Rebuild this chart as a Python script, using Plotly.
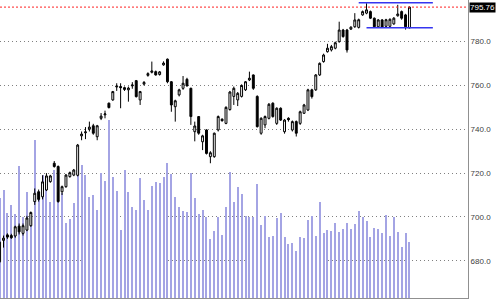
import plotly.graph_objects as go

# ---- data ----
opens = [679.5, 689.3, 691.8, 691.5, 691.3, 695.8, 692.5, 694.0, 696.0, 707.0,
         711.5, 709.2, 712.3, 716.1, 724.5, 723.0, 711.5, 713.8, 718.4, 719.1,
         719.0, 737.0, 738.4, 740.0, 741.6, 736.6, 745.0, 746.6, 751.9, 753.4,
         759.3, 759.5, 759.0, 758.0, 759.8, 762.2, 753.4, 760.6, 764.6, 766.0,
         766.3, 765.0, 769.4, 772.0, 761.7, 750.3, 755.7, 758.7, 762.8, 758.7,
         738.9, 745.8, 734.3, 739.7, 727.5, 727.5, 739.7, 744.6, 742.7, 749.0,
         755.0, 753.4, 755.0, 758.0, 762.5, 764.8, 755.0, 738.2, 742.0, 745.0,
         751.9, 742.7, 749.6, 738.9, 745.0, 739.7, 743.5, 742.7, 747.3, 748.8,
         758.0, 758.0, 764.8, 770.9, 775.4, 776.2, 777.0, 780.0, 785.3, 785.3,
         785.7, 786.8, 786.5, 792.2, 793.0, 793.7, 790.7, 786.8, 789.9, 787.0,
         787.0, 788.1, 791.8, 793.7, 792.2, 786.3]
highs = [689.0, 691.5, 692.5, 692.3, 696.0, 697.0, 697.0, 700.5, 702.5, 713.0,
         712.5, 719.0, 720.0, 719.2, 725.5, 723.5, 714.3, 719.6, 720.7, 721.9,
         733.3, 739.0, 741.0, 743.5, 742.5, 742.0, 747.4, 748.5, 752.2, 757.5,
         761.0, 761.0, 759.5, 759.5, 761.5, 762.5, 757.5, 762.0, 766.0, 770.9,
         766.8, 766.6, 771.0, 772.3, 762.0, 753.5, 758.5, 764.3, 763.5, 759.0,
         743.5, 746.0, 737.5, 740.0, 730.0, 738.5, 746.3, 745.0, 750.5, 757.5,
         759.5, 757.0, 760.5, 762.0, 766.3, 765.0, 755.5, 745.5, 746.3, 752.0,
         752.3, 750.0, 750.0, 744.7, 745.5, 744.0, 744.0, 748.5, 751.6, 758.5,
         758.5, 765.2, 770.5, 774.5, 779.0, 778.5, 780.0, 789.1, 785.8, 785.8,
         787.0, 793.0, 790.5, 794.2, 797.5, 794.2, 791.0, 790.3, 790.3, 790.4,
         790.6, 791.2, 796.8, 794.2, 792.7, 796.0]
lows = [679.0, 686.0, 690.0, 690.0, 690.5, 692.0, 691.5, 693.5, 695.5, 705.5,
        707.0, 708.0, 711.8, 715.6, 722.5, 706.5, 710.0, 713.3, 717.9, 718.6,
        718.5, 735.0, 735.5, 739.0, 737.5, 735.0, 744.2, 745.0, 749.5, 753.0,
        757.5, 749.6, 757.5, 752.6, 758.5, 754.5, 751.1, 760.0, 764.0, 765.5,
        764.5, 764.5, 769.0, 761.0, 748.0, 743.5, 755.0, 758.0, 759.5, 742.0,
        734.5, 737.5, 730.5, 728.5, 724.5, 727.0, 739.0, 743.5, 742.3, 748.5,
        751.1, 750.6, 754.5, 757.5, 762.0, 758.0, 740.8, 737.5, 740.5, 744.5,
        745.3, 742.0, 743.8, 738.0, 743.5, 739.0, 736.7, 742.0, 747.0, 748.3,
        754.0, 757.5, 764.3, 770.4, 775.0, 775.5, 776.5, 779.5, 781.8, 775.0,
        785.3, 786.3, 786.0, 791.8, 792.5, 790.3, 786.3, 786.3, 786.2, 786.5,
        786.5, 787.7, 791.4, 790.0, 785.5, 786.0]
closes = [688.5, 690.3, 690.8, 690.5, 695.5, 693.2, 696.0, 699.5, 702.0, 710.8,
          708.0, 716.0, 718.7, 718.7, 723.0, 707.0, 713.8, 719.1, 720.2, 721.4,
          732.8, 737.8, 738.8, 741.0, 738.2, 741.6, 746.0, 747.0, 749.9, 757.2,
          759.7, 759.0, 758.2, 758.8, 760.2, 754.9, 757.2, 761.4, 765.4, 766.6,
          764.8, 766.2, 770.2, 761.7, 751.1, 753.0, 758.0, 761.0, 759.8, 745.8,
          741.5, 738.2, 737.0, 729.0, 729.3, 738.2, 745.8, 743.9, 750.0, 757.0,
          758.7, 756.4, 760.0, 761.7, 763.3, 758.7, 741.2, 745.0, 745.8, 751.4,
          745.8, 749.6, 744.2, 744.2, 744.4, 743.5, 738.2, 748.0, 751.1, 758.0,
          754.9, 764.8, 770.1, 773.9, 777.0, 777.7, 779.5, 785.3, 782.3, 776.2,
          786.6, 789.9, 790.0, 793.7, 794.5, 790.7, 786.8, 789.9, 786.6, 790.0,
          790.2, 790.7, 792.6, 790.7, 786.8, 795.76]
volume = [100, 108, 85, 93, 84, 132, 81, 106, 85, 158,
          101, 123, 120, 96, 128, 106, 105, 75, 79, 95,
          133, 133, 123, 101, 103, 88, 125, 117, 178, 121,
          107, 68, 128, 106, 91, 88, 120, 98, 88, 112,
          116, 115, 121, 135, 124, 101, 91, 87, 86, 125,
          100, 84, 88, 81, 59, 67, 81, 63, 91, 126,
          96, 111, 104, 82, 81, 81, 114, 73, 82, 61,
          62, 80, 85, 61, 54, 55, 47, 61, 60, 78,
          82, 62, 96, 65, 68, 67, 75, 66, 69, 75,
          69, 74, 87, 81, 77, 61, 70, 69, 65, 83,
          62, 81, 66, 51, 65, 56]
idx = list(range(len(closes)))

last_price = 795.76
channel_x = [92, 111]
channel_lower_x = [94, 111]
channel_upper = 797.8
channel_lower = 786.3

fig = go.Figure()
fig.add_trace(go.Bar(x=idx, y=volume, width=0.26, marker_color="#a4a4e4",
                     marker_line_width=0, yaxis="y", showlegend=False,
                     hoverinfo="skip"))
fig.add_trace(go.Candlestick(
    x=idx, open=opens, high=highs, low=lows, close=closes, yaxis="y2",
    increasing=dict(line=dict(color="black", width=1), fillcolor="white"),
    decreasing=dict(line=dict(color="black", width=1), fillcolor="black"),
    whiskerwidth=0, showlegend=False))

# last price red dotted line
fig.add_shape(type="line", xref="paper", x0=0, x1=1, yref="y2",
              y0=last_price, y1=last_price,
              line=dict(color="#ff2020", width=1, dash="2px,2px"))
# channel lines
fig.add_shape(type="line", xref="x", yref="y2", x0=channel_x[0], x1=channel_x[1],
              y0=channel_upper, y1=channel_upper,
              line=dict(color="#3535f0", width=1.5))
fig.add_shape(type="line", xref="x", yref="y2", x0=channel_lower_x[0],
              x1=channel_lower_x[1], y0=channel_lower, y1=channel_lower,
              line=dict(color="#3535f0", width=1.5))

fig.add_annotation(xref="paper", x=1.0, xanchor="left", yref="y2",
                   y=last_price, yanchor="middle", text=f"{last_price:.2f}",
                   showarrow=False, bgcolor="black",
                   font=dict(color="white", size=8, family="Liberation Sans"),
                   borderpad=0, xshift=1)

fig.update_layout(
    width=501, height=300,
    margin=dict(l=0, r=33, t=0, b=2),
    paper_bgcolor="white", plot_bgcolor="white",
    boxgap=0.3,
    xaxis=dict(range=[0.1, 120], showgrid=False, zeroline=False,
               showticklabels=False, showline=True, linecolor="#909090",
               rangeslider=dict(visible=False), fixedrange=True),
    yaxis=dict(range=[0, 298], visible=False, showgrid=False, zeroline=False),
    yaxis2=dict(overlaying="y", side="right", range=[663, 799],
                tick0=680, dtick=20, tickformat=".1f",
                showgrid=True, gridcolor="#808080", griddash="1px,3px",
                gridwidth=1, zeroline=False, showline=True,
                linecolor="#909090", ticks="",
                tickfont=dict(size=8, color="#404040",
                              family="Liberation Sans")),
)

fig.write_html("out.html")
